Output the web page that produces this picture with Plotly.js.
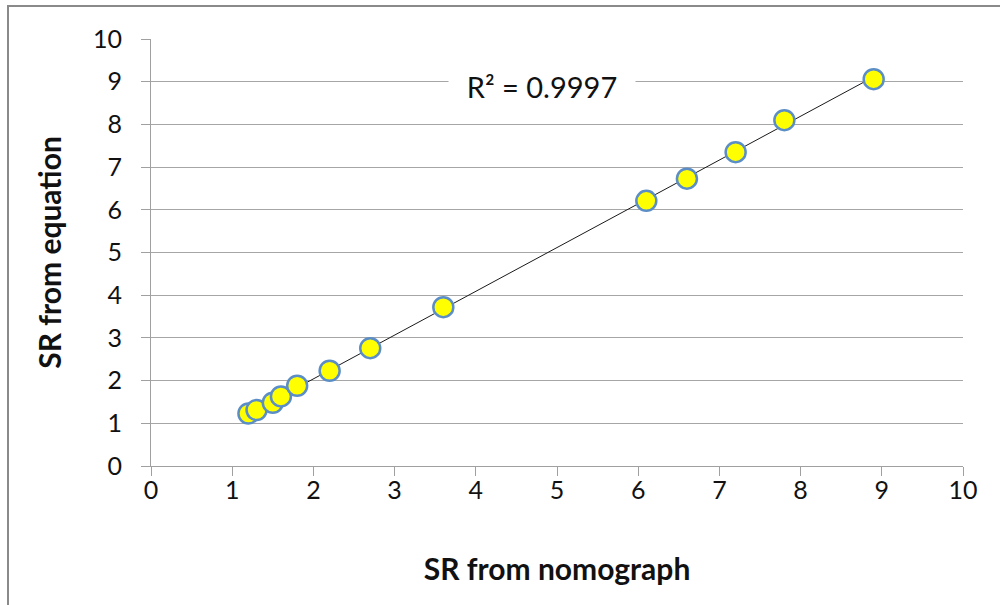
<!DOCTYPE html>
<html>
<head>
<meta charset="utf-8">
<script src="https://cdn.plot.ly/plotly-3.0.1.min.js"></script>
<style>
  html, body { margin: 0; padding: 0; background: #fff; }
  #wrap { position: relative; width: 1000px; height: 605px; overflow: hidden; }
  #chart { position: absolute; left: 0; top: 0; width: 1000px; height: 605px; }
  #frame { position: absolute; left: 7px; top: 5px; width: 1000px; height: 700px;
           border-left: 2px solid #8a8a8a; border-top: 2px solid #8a8a8a; pointer-events: none; }
</style>
</head>
<body>
<div id="wrap">
  <div id="chart"></div>
  <div id="frame"></div>
</div>
<script>
// Data
const srNomograph = [1.2, 1.3, 1.5, 1.6, 1.8, 2.2, 2.7, 3.6, 6.1, 6.6, 7.2, 7.8, 8.9];
const srEquation  = [1.23, 1.31, 1.48, 1.63, 1.88, 2.23, 2.76, 3.72, 6.21, 6.73, 7.35, 8.10, 9.06];
const tickValues = [0, 1, 2, 3, 4, 5, 6, 7, 8, 9, 10];
const xTitle = "SR from nomograph";
const yTitle = "SR from equation";
const r2Label = "R² = 0.9997";

// Linear least-squares trendline from the data
const n = srNomograph.length;
const mx = srNomograph.reduce((a, b) => a + b, 0) / n;
const my = srEquation.reduce((a, b) => a + b, 0) / n;
let sxy = 0, sxx = 0;
for (let i = 0; i < n; i++) {
  sxy += (srNomograph[i] - mx) * (srEquation[i] - my);
  sxx += (srNomograph[i] - mx) ** 2;
}
const slope = sxy / sxx;
const intercept = my - slope * mx;
const xMin = Math.min(...srNomograph), xMax = Math.max(...srNomograph);
const trendX = [xMin, xMax];
const trendY = trendX.map(v => intercept + slope * v);

const FONT = "Lato, 'Open Sans', sans-serif";

const traces = [
  {
    x: trendX, y: trendY, mode: "lines", type: "scatter",
    line: { color: "#1a1a1a", width: 1 }, hoverinfo: "skip", showlegend: false
  },
  {
    x: srNomograph, y: srEquation, mode: "markers", type: "scatter",
    marker: { color: "#ffff00", size: 20, line: { color: "#5b8ec6", width: 2.5 } },
    showlegend: false
  }
];

const axisCommon = {
  range: [0, 10], tickmode: "array", tickvals: tickValues, ticktext: tickValues.map(String),
  ticks: "outside", ticklen: 9, tickwidth: 1, tickcolor: "#a0a0a0",
  showline: true, linecolor: "#a0a0a0", linewidth: 1,
  zeroline: false, fixedrange: true,
  tickfont: { family: FONT, size: 25, color: "#111" }
};

const layout = {
  width: 1000, height: 605,
  margin: { l: 151, r: 37, t: 39, b: 139 },
  paper_bgcolor: "#ffffff", plot_bgcolor: "#ffffff",
  xaxis: Object.assign({}, axisCommon, {
    showgrid: false,
    ticklabelstandoff: -7,
    title: { text: "<b>" + xTitle + "</b>", font: { family: FONT, size: 30, color: "#111" }, standoff: 55 }
  }),
  yaxis: Object.assign({}, axisCommon, {
    showgrid: true, gridcolor: "#a6a6a6", gridwidth: 1,
    ticklabelstandoff: 14,
    title: { text: "<b>" + yTitle + "</b>", font: { family: FONT, size: 30, color: "#111" }, standoff: 22 }
  }),
  annotations: [{
    x: 4.82, y: 8.88, xref: "x", yref: "y", text: r2Label, showarrow: false,
    font: { family: FONT, size: 29, color: "#111" },
    bgcolor: "#ffffff", borderpad: 2, width: 182
  }]
};

Plotly.newPlot("chart", traces, layout, { displayModeBar: false, staticPlot: true });
</script>
</body>
</html>
